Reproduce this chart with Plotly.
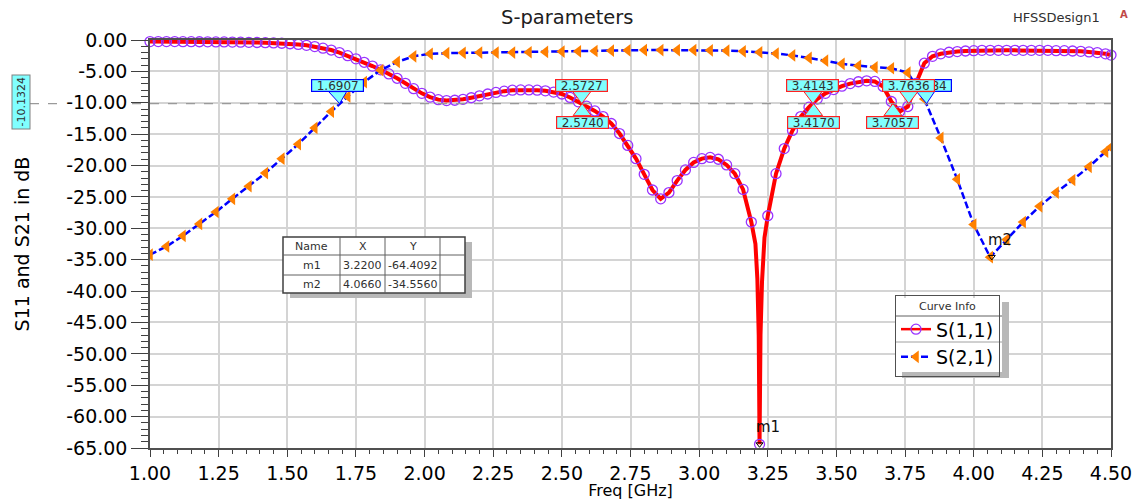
import plotly.graph_objects as go

# ---------------- data ----------------
f11 = [round(1.00 + 0.03 * i, 2) for i in range(117)] + [4.50]
s11_db = [
    -0.25, -0.25, -0.25, -0.25, -0.26, -0.27, -0.28, -0.29, -0.30, -0.31,
    -0.33, -0.35, -0.37, -0.40, -0.43, -0.47, -0.52, -0.60, -0.70, -0.85,
    -1.05, -1.30, -1.60, -2.00, -2.50, -3.00, -3.55, -4.15, -4.75, -5.40,
    -6.10, -6.90, -7.75, -8.50, -9.10, -9.50, -9.65, -9.60, -9.45, -9.20,
    -8.90, -8.60, -8.35, -8.15, -8.00, -7.95, -7.95, -8.00, -8.10, -8.30,
    -8.60, -9.15, -9.85, -10.55, -11.30, -12.20, -13.30, -14.90, -16.80, -18.90,
    -21.40, -23.90, -25.30, -24.30, -22.40, -20.70, -19.50, -18.90, -18.70, -19.00,
    -19.90, -21.30, -23.80, -29.00, -64.41, -28.00, -21.30, -17.30, -14.40, -12.20,
    -10.70, -9.40, -8.50, -7.90, -7.35, -6.95, -6.65, -6.50, -6.60, -7.40,
    -9.80, -11.40, -10.60, -6.90, -3.70, -2.60, -2.20, -1.95, -1.85, -1.75,
    -1.70, -1.65, -1.65, -1.65, -1.65, -1.65, -1.65, -1.65, -1.65, -1.65,
    -1.70, -1.70, -1.75, -1.80, -1.90, -2.00, -2.20, -2.40,
]
# extra (dense) sweep points read inside the deep S11 notch
notch_f = [3.205, 3.212, 3.217, 3.2235, 3.229, 3.238]
notch_db = [-32.5, -38.0, -47.0, -47.0, -38.5, -31.5]

f21 = [round(1.00 + 0.06 * i, 2) for i in range(59)] + [4.50]
s21_db = [
    -34.2, -32.9, -31.2, -29.3, -27.4, -25.3, -23.3, -21.2, -18.9, -16.6,
    -14.0, -11.4, -9.0, -6.7, -4.8, -3.5, -2.6, -2.2, -2.1, -2.05,
    -2.0, -2.0, -2.0, -1.95, -1.9, -1.85, -1.8, -1.75, -1.7, -1.65,
    -1.6, -1.6, -1.6, -1.6, -1.65, -1.7, -1.8, -1.95, -2.15, -2.45,
    -2.85, -3.3, -3.8, -4.1, -4.35, -4.5, -5.2, -9.4, -15.6, -22.2,
    -29.4, -34.6, -31.8, -29.0, -26.5, -24.3, -22.3, -20.2, -17.8, -17.1,
]

ref_level = -10.1324
s11_cross = [(2.5727, "above"), (2.5740, "below"), (3.4143, "above"),
             (3.4170, "below"), (3.7057, "below")]
s21_cross = [1.6907, 3.8284]
s11_cross_top = 3.7636

mk_names = ["m1", "m2"]
mk_x = [3.2200, 4.0660]
mk_y = [-64.4092, -34.5560]

x_ticks = [1.00, 1.25, 1.50, 1.75, 2.00, 2.25, 2.50, 2.75, 3.00, 3.25,
           3.50, 3.75, 4.00, 4.25, 4.50]
y_ticks = [0, -5, -10, -15, -20, -25, -30, -35, -40, -45, -50, -55, -60, -65]

# ---------------- geometry helpers ----------------
W, H = 1142, 500
PL, PR, PT, PB = 150, 1111, 40, 448
XMIN, XMAX, YMIN, YMAX = 1.0, 4.5, -65.0, 0.0
FONT = "DejaVu Sans"


def f2px(f):
    return PL + (f - XMIN) / (XMAX - XMIN) * (PR - PL)


def db2py(v):
    return PT + (YMAX - v) / (YMAX - YMIN) * (PB - PT)


def xp(px):
    return (px - PL) / (PR - PL)


def yp(py):
    return (PB - py) / (PB - PT)


shapes = []
annots = []


def rect(x0, y0, x1, y1, fill, line, lw=1.0):
    shapes.append(dict(type="rect", xref="paper", yref="paper",
                       x0=xp(x0), x1=xp(x1), y0=yp(y1), y1=yp(y0),
                       fillcolor=fill, line=dict(color=line, width=lw),
                       layer="above"))


def seg(x0, y0, x1, y1, color, lw=1.0, dash="solid"):
    shapes.append(dict(type="line", xref="paper", yref="paper",
                       x0=xp(x0), x1=xp(x1), y0=yp(y0), y1=yp(y1),
                       line=dict(color=color, width=lw, dash=dash),
                       layer="above"))


def text(px, py, s, size, color="#202020", angle=0, **kw):
    annots.append(dict(xref="paper", yref="paper", x=xp(px), y=yp(py),
                       text=s, showarrow=False, textangle=angle,
                       xanchor="center", yanchor="middle",
                       font=dict(family=FONT, size=size, color=color), **kw))


CYAN = "#80ffff"


def callout(f, label, color, side, xoff=0):
    tx, ty = f2px(f), db2py(ref_level)
    bw, bh = 51, 11
    cx = tx + xoff
    if side == "above":
        cy = ty - 18.5
        base = ty - 12
    else:
        cy = ty + 18.5
        base = ty + 12
    path = "M {:.4f},{:.4f} L {:.4f},{:.4f} L {:.4f},{:.4f} Z".format(
        xp(cx - 9), yp(base), xp(tx), yp(ty), xp(cx + 9), yp(base))
    shapes.append(dict(type="path", xref="paper", yref="paper", path=path,
                       fillcolor=CYAN, line=dict(color=color, width=1),
                       layer="above"))
    text(cx, cy, label, 12, "#303030", width=bw, height=bh, borderpad=0,
         bgcolor=CYAN, bordercolor=color, borderwidth=1.2)


# ---------------- figure ----------------
fig = go.Figure()

line_pts = sorted(zip(f11 + notch_f, s11_db + notch_db))
fig.add_trace(go.Scatter(
    x=[p[0] for p in line_pts], y=[p[1] for p in line_pts], mode="lines",
    line=dict(color="#ff0000", width=4), showlegend=False, hoverinfo="skip"))
fig.add_trace(go.Scatter(
    x=f11, y=s11_db, mode="markers", cliponaxis=False,
    marker=dict(symbol="circle-open", size=10, color="#9933ff",
                line=dict(width=1.3, color="#9933ff")),
    showlegend=False))
fig.add_trace(go.Scatter(
    x=f21, y=s21_db, mode="lines+markers", name="S(2,1)", legendrank=2,
    line=dict(color="#0000ff", width=2.5, dash="7px,3px"),
    marker=dict(symbol="triangle-left", size=11, color="#ff8000")))
fig.add_trace(go.Scatter(
    x=[None], y=[None], mode="lines+markers", name="S(1,1)", legendrank=1,
    line=dict(color="#ff0000", width=2.5),
    marker=dict(symbol="circle-open", size=10, color="#9933ff",
                line=dict(width=1.3, color="#9933ff"))))
fig.add_trace(go.Scatter(
    x=mk_x, y=mk_y, mode="markers", cliponaxis=False, showlegend=False,
    marker=dict(symbol="triangle-down-open", size=6, color="#000000",
                line=dict(width=1, color="#000000"))))

for n, x, y in zip(mk_names, mk_x, mk_y):
    annots.append(dict(x=x, y=y, xref="x", yref="y", text=n, showarrow=False,
                       xshift=8, yshift=17,
                       font=dict(family=FONT, size=15, color="#101010")))

# reference level dashed line and its left tag
ry = db2py(ref_level)
seg(30, ry, 58, ry, "#9a9a9a", 1.3, "dash")
seg(132, ry, PR, ry, "#9a9a9a", 1.3, "dash")
text(21, 102.5, "-10.1324", 11, "#303030", angle=-90,
     bgcolor=CYAN, bordercolor="#808080", borderwidth=1, borderpad=2)

# marker callouts (order matters: later boxes cover earlier ones)
callout(s21_cross[0], "{:.4f}".format(s21_cross[0]), "#0000ff", "above", -2)
for f, side in s11_cross:
    callout(f, "{:.4f}".format(f), "#ff2020", side)
callout(s21_cross[1], "{:.4f}".format(s21_cross[1]), "#0000ff", "above", -1)
callout(s11_cross_top, "{:.4f}".format(s11_cross_top), "#ff2020", "above")

# marker table
cols = [283, 340, 385, 440, 465]
rows = [237, 255, 275, 293]
rect(cols[0] + 7, rows[0] + 5, cols[-1] + 7, rows[-1] + 5, "#b8b8b8", "#b8b8b8", 0)
rect(cols[0], rows[0], cols[-1], rows[-1], "#ffffff", "#404040", 1.5)
for c in cols[1:-1]:
    seg(c, rows[0], c, rows[-1], "#606060", 1)
for r in rows[1:-1]:
    seg(cols[0], r, cols[-1], r, "#606060", 1)
hdr = ["Name", "X", "Y"]
for j, h in enumerate(hdr):
    text((cols[j] + cols[j + 1]) / 2, (rows[0] + rows[1]) / 2, h, 11, "#303030")
for i, (n, x, y) in enumerate(zip(mk_names, mk_x, mk_y)):
    cy = (rows[i + 1] + rows[i + 2]) / 2
    for j, s in enumerate([n, "{:.4f}".format(x), "{:.4f}".format(y)]):
        text((cols[j] + cols[j + 1]) / 2, cy, s, 11, "#303030")

# legend shadow, background and row separators
rect(902, 302, 1009, 378, "#b8b8b8", "#b8b8b8", 0)
rect(896, 298, 1002, 372, "#ffffff", "#ffffff", 0)
seg(896, 316, 1002, 316, "#606060", 1)
seg(896, 342, 1002, 342, "#a0a0a0", 1)

# titles
text(567, 18, "S-parameters", 19.5, "#202020")
text(1056, 18, "HFSSDesign1", 13, "#303030")
text(1124, 14, "<b>A</b>", 10, "#c04848")

fig.update_layout(
    width=W, height=H,
    margin=dict(l=PL, r=W - PR, t=PT, b=H - PB, autoexpand=False),
    paper_bgcolor="#ffffff", plot_bgcolor="#ffffff",
    font=dict(family=FONT, color="#000000"),
    shapes=shapes, annotations=annots,
    legend=dict(x=xp(895), y=yp(295), xanchor="left", yanchor="top",
                bgcolor="rgba(0,0,0,0)", bordercolor="#505050", borderwidth=1,
                font=dict(family=FONT, size=19, color="#000000"),
                title=dict(text="Curve Info", side="top center",
                           font=dict(family=FONT, size=11, color="#303030")),
                tracegroupgap=0),
    xaxis=dict(range=[XMIN, XMAX], tickvals=x_ticks,
               ticktext=["{:.2f}".format(v) for v in x_ticks],
               tickfont=dict(family=FONT, size=19, color="#000000"),
               ticks="outside", ticklen=7, tickcolor="#404040",
               minor=dict(dtick=0.05, ticklen=4, ticks="outside",
                          tickcolor="#404040", showgrid=False),
               showgrid=True, gridcolor="#d4d4d4", gridwidth=1.5,
               showline=True, linecolor="#505050", linewidth=1.5, mirror=True,
               zeroline=False,
               title=dict(text="Freq [GHz]", standoff=9,
                          font=dict(family=FONT, size=16, color="#000000"))),
    yaxis=dict(range=[YMIN, YMAX], tickvals=y_ticks,
               ticktext=["{:.2f}".format(v) for v in y_ticks],
               tickfont=dict(family=FONT, size=19, color="#000000"),
               ticks="outside", ticklen=17, tickcolor="#404040",
               minor=dict(dtick=1, ticklen=7, ticks="outside",
                          tickcolor="#404040", showgrid=False),
               showgrid=True, gridcolor="#d4d4d4", gridwidth=1.5,
               showline=True, linecolor="#505050", linewidth=1.5, mirror=True,
               zeroline=False,
               title=dict(text="S11 and S21 in dB", standoff=32,
                          font=dict(family=FONT, size=19, color="#000000"))),
)

fig.write_html("out.html")
